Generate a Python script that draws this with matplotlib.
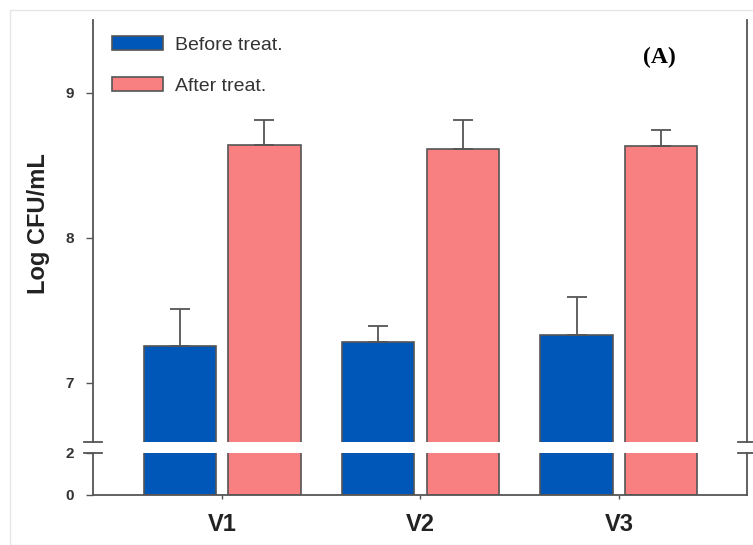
import matplotlib.pyplot as plt
import numpy as np
from matplotlib.patches import Rectangle

plt.rcParams["font.family"] = ["Liberation Sans", "DejaVu Sans"]

# data
groups = ["V1", "V2", "V3"]
before = [7.25, 7.28, 7.33]
before_err = [0.26, 0.11, 0.26]
after = [8.64, 8.61, 8.63]
after_err = [0.17, 0.20, 0.11]

blue = "#0057b7"
pink = "#f88080"
edge = "#555555"

fig = plt.figure(figsize=(7.53, 5.45), dpi=100)
fig.patches.append(Rectangle((10 / 753, 0), 1, 1 - 10 / 545, transform=fig.transFigure,
                             fill=False, edgecolor="#e6e6e6", lw=1))

left, right = 93 / 753, 747 / 753
ax_top = fig.add_axes([left, 1 - 442 / 545, right - left, (442 - 20) / 545])
ax_bot = fig.add_axes([left, 1 - 495 / 545, right - left, (495 - 453) / 545])

x = np.arange(len(groups))
w = 0.363
off = 0.214

for ax in (ax_top, ax_bot):
    ax.bar(x - off, before, w, color=blue, edgecolor=edge, lw=1.2,
           label="Before treat.", zorder=2)
    ax.bar(x + off, after, w, color=pink, edgecolor=edge, lw=1.2,
           label="After treat.", zorder=2)
    ax.set_xlim(-0.65, 2.645)
    for s in ("left", "right", "bottom", "top"):
        ax.spines[s].set_color(edge)
        ax.spines[s].set_linewidth(1.3)
    ax.spines["top"].set_visible(False)
    ax.tick_params(axis="y", colors=edge, labelcolor="#333333", length=5, width=1,
                   labelsize=11, pad=9)

# error bars (upper half only) on the top axes
ax_top.errorbar(x - off, before, yerr=[np.zeros(3), before_err], fmt="none",
                ecolor=edge, elinewidth=1.3, capsize=7, capthick=1.3, zorder=3)
ax_top.errorbar(x + off, after, yerr=[np.zeros(3), after_err], fmt="none",
                ecolor=edge, elinewidth=1.3, capsize=7, capthick=1.3, zorder=3)

ax_top.set_ylim(6.59, 9.5)
ax_top.set_yticks([7, 8, 9])
ax_top.spines["bottom"].set_visible(False)
ax_top.set_xticks([])

ax_bot.set_ylim(0, 2)
ax_bot.set_yticks([0, 2])
ax_bot.set_xticks(x)
ax_bot.set_xticklabels(groups, fontsize=17, fontweight="bold")
ax_bot.tick_params(axis="x", colors=edge, labelcolor="#222222", length=3, width=1, pad=10)

for ax in (ax_top, ax_bot):
    for t in ax.get_yticklabels():
        t.set_fontweight("bold")

# break marks on both spines
for ax, yy in ((ax_top, 0), (ax_bot, 1)):
    for xx in (0, 1):
        ax.plot([xx - 0.013, xx + 0.013], [yy, yy], transform=ax.transAxes,
                color=edge, lw=1.3, clip_on=False)

fig.text(38 / 753, 1 - 224 / 545, "Log CFU/mL", rotation=90, ha="center", va="center",
         fontsize=17, fontweight="bold", color="#222222")

leg = ax_top.legend(loc="upper left", frameon=False, fontsize=14, handlelength=2.6,
                    handleheight=0.72, labelspacing=1.2, handletextpad=0.65,
                    borderpad=0, borderaxespad=0,
                    bbox_to_anchor=(112 / 753, 1 - 36 / 545),
                    bbox_transform=fig.transFigure)
for t in leg.get_texts():
    t.set_color("#333333")

ax_top.text(0.866, 0.912, "(A)", transform=ax_top.transAxes, ha="center", va="center",
            fontsize=17, fontweight="bold", family="Liberation Serif")

plt.savefig("out.png", dpi=100)
plt.close()
